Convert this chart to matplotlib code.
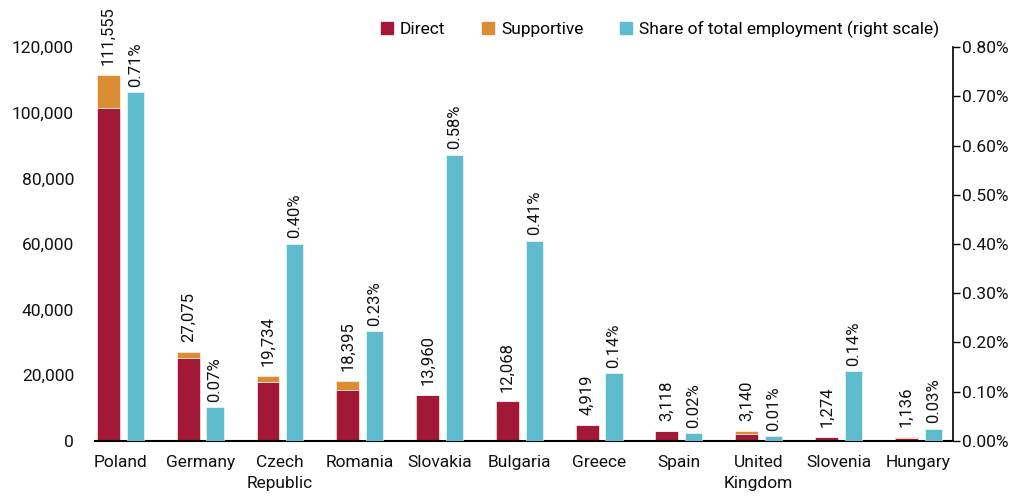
import numpy as np
import matplotlib.pyplot as plt
from matplotlib.patches import Patch
from matplotlib.ticker import FuncFormatter

plt.rcParams['font.family'] = ['Roboto', 'DejaVu Sans']

# data
countries = ["Poland", "Germany", "Czech\nRepublic", "Romania", "Slovakia", "Bulgaria",
             "Greece", "Spain", "United\nKingdom", "Slovenia", "Hungary"]
direct = [101500, 25400, 17900, 15500, 13960, 12068, 4919, 2950, 2000, 1150, 900]
supportive = [10055, 1675, 1834, 2895, 0, 0, 0, 168, 1140, 124, 236]
totals = [111555, 27075, 19734, 18395, 13960, 12068, 4919, 3118, 3140, 1274, 1136]
share = [0.708, 0.068, 0.400, 0.223, 0.581, 0.406, 0.137, 0.015, 0.009, 0.141, 0.025]
share_labels = ["0.71%", "0.07%", "0.40%", "0.23%", "0.58%", "0.41%", "0.14%",
                "0.02%", "0.01%", "0.14%", "0.03%"]

c_direct = "#A31836"
c_supp = "#DB8D33"
c_share = "#5FBBCE"

fig = plt.figure(figsize=(10.31, 5.01), dpi=100)
ax = fig.add_axes([0.092, 0.12, 0.832, 0.786])
ax2 = ax.twinx()

x = np.arange(len(countries))
w_red = 0.288
w_cyan = 0.216

ax.bar(x - 0.294, direct, width=w_red, align='edge', color=c_direct,
       edgecolor='white', linewidth=0.4)
ax.bar(x - 0.294, supportive, width=w_red, bottom=direct, align='edge', color=c_supp,
       edgecolor='white', linewidth=0.4)
ax2.bar(x + 0.078, share, width=w_cyan, align='edge', color=c_share,
        edgecolor='white', linewidth=0.4)

for i in range(len(countries)):
    ax.annotate(f"{totals[i]:,}", (x[i] - 0.294 + w_red / 2, direct[i] + supportive[i]),
                xytext=(0, 7), textcoords='offset points', rotation=90,
                ha='center', va='bottom', fontsize=12, color='#111111',
                annotation_clip=False)
    ax2.annotate(share_labels[i], (x[i] + 0.078 + w_cyan / 2, share[i]),
                 xytext=(0, 4), textcoords='offset points', rotation=90,
                 ha='center', va='bottom', fontsize=12, color='#111111',
                 annotation_clip=False)

ax.set_xlim(-0.32, 10.43)
ax.set_ylim(0, 120000)
ax2.set_ylim(0, 0.8)
ax.set_yticks(np.arange(0, 120001, 20000))
ax2.set_yticks(np.arange(0, 0.81, 0.1))
ax.yaxis.set_major_formatter(FuncFormatter(lambda v, p: f"{v:,.0f}"))
ax2.yaxis.set_major_formatter(FuncFormatter(lambda v, p: f"{v:.2f}%"))

ax.set_xticks(x)
ax.set_xticklabels(countries, fontsize=12.5, color='#111111', linespacing=1.55)
ax.tick_params(axis='x', length=0, pad=10)
ax.tick_params(axis='y', length=0, pad=15, labelsize=12.5, labelcolor='#111111')
ax2.tick_params(axis='y', length=5, width=1, direction='out', pad=2,
                labelsize=12.5, labelcolor='#111111')

for a in (ax, ax2):
    for s in ['top', 'left']:
        a.spines[s].set_visible(False)
ax.spines['right'].set_visible(False)
ax2.spines['bottom'].set_visible(False)
ax.spines['bottom'].set_linewidth(1.5)
ax2.spines['right'].set_linewidth(1.2)

handles = [Patch(color=c_direct, label="Direct"),
           Patch(color=c_supp, label="Supportive"),
           Patch(color=c_share, label="Share of total employment (right scale)")]
fig.legend(handles=handles, loc='upper right', bbox_to_anchor=(0.926, 0.99), ncol=3,
           frameon=False, fontsize=12.5, handlelength=0.7, handleheight=0.7,
           handletextpad=0.4, columnspacing=2.1)

fig.savefig("out.png", dpi=100, facecolor='white')
